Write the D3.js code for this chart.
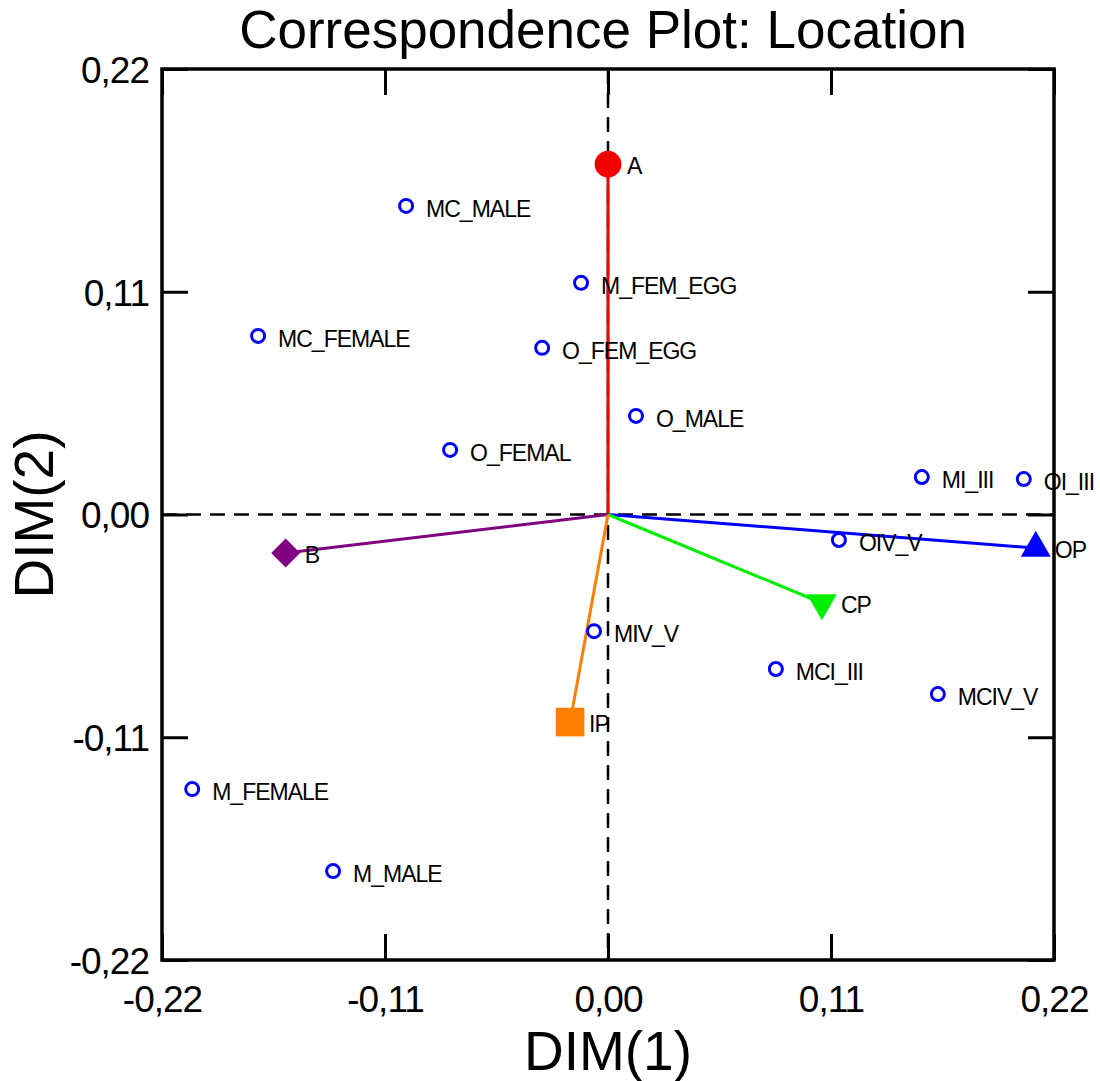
<!doctype html>
<html>
<head>
<meta charset="UTF-8">
<title>Correspondence Plot: Location</title>
<script src="https://d3js.org/d3.v7.min.js"></script>
<style>
  body { margin: 0; background: #fff; }
  text { font-family: "Liberation Sans", Arial, sans-serif; }
</style>
</head>
<body>
<script>
// row points (open circles)
var rowNames = ["MC_MALE", "M_FEM_EGG", "MC_FEMALE", "O_FEM_EGG", "O_MALE", "O_FEMAL",
                "MI_III", "OI_III", "OIV_V", "MIV_V", "MCI_III", "MCIV_V", "M_FEMALE", "M_MALE"];
var rowDim1 = [-0.0996, -0.0133, -0.1726, -0.0325, 0.0138, -0.0779,
               0.1548, 0.2051, 0.1139, -0.0069, 0.0828, 0.1627, -0.2051, -0.1356];
var rowDim2 = [0.1524, 0.1144, 0.0882, 0.0823, 0.0487, 0.0319,
               0.0185, 0.0175, -0.0126, -0.0576, -0.0763, -0.0887, -0.1356, -0.1761];

// column points (location)
var colNames = ["A", "B", "OP", "CP", "IP"];
var colDim1 = [0.0, -0.159, 0.211, 0.1055, -0.0187];
var colDim2 = [0.173, -0.019, -0.0166, -0.0437, -0.1025];

var tickVals = [-0.22, -0.11, 0.00, 0.11, 0.22];

var colStyle = {
  A:  { color: "#f00000", shape: d3.symbolCircle,   size: 560, rot: 0 },
  B:  { color: "#800080", shape: d3.symbolSquare,   size: 420, rot: 45 },
  OP: { color: "#0000ff", shape: d3.symbolTriangle, size: 390, rot: 0 },
  CP: { color: "#00ee00", shape: d3.symbolTriangle, size: 390, rot: 180 },
  IP: { color: "#ff8000", shape: d3.symbolSquare,   size: 820, rot: 0 }
};

var W = 1100, H = 1081;
var pL = 162, pR = 1054, pT = 69, pB = 960;

var svg = d3.select("body").append("svg").attr("width", W).attr("height", H);

var x = d3.scaleLinear().domain([-0.22, 0.22]).range([pL, pR]);
var y = d3.scaleLinear().domain([-0.22, 0.22]).range([pB, pT]);
var fmt = function(d){ return d3.format(".2f")(d).replace(".", ",").replace("−", "-"); };

// dashed zero lines
svg.append("line").attr("x1", x(0)).attr("x2", x(0)).attr("y1", pT).attr("y2", pB)
  .attr("stroke", "#000").attr("stroke-width", 2.5).attr("stroke-dasharray", "15,9");
svg.append("line").attr("x1", pL).attr("x2", pR).attr("y1", y(0)).attr("y2", y(0))
  .attr("stroke", "#000").attr("stroke-width", 2.5).attr("stroke-dasharray", "15,9");

// axes with inward ticks
var tk = 26;
function styleAxis(g, showLabels){
  g.select(".domain").remove();
  g.selectAll(".tick line").attr("stroke", "#000").attr("stroke-width", 3);
  if (!showLabels) g.selectAll(".tick text").remove();
}
svg.append("g").attr("transform", "translate(0," + pB + ")")
  .call(d3.axisBottom(x).tickValues(tickVals).tickSize(-tk).tickPadding(0).tickFormat(fmt))
  .call(styleAxis, true)
  .selectAll(".tick text").attr("y", 52).attr("dy", null)
  .style("font-size", "37px").style("letter-spacing", "-1px").attr("fill", "#000");
svg.append("g").attr("transform", "translate(0," + pT + ")")
  .call(d3.axisTop(x).tickValues(tickVals).tickSize(-tk))
  .call(styleAxis, false);
svg.append("g").attr("transform", "translate(" + pL + ",0)")
  .call(d3.axisLeft(y).tickValues(tickVals).tickSize(-tk).tickPadding(0).tickFormat(fmt))
  .call(styleAxis, true)
  .selectAll(".tick text").attr("x", -13).attr("dy", "0.36em")
  .style("font-size", "37px").style("letter-spacing", "-1px").attr("fill", "#000");
svg.append("g").attr("transform", "translate(" + pR + ",0)")
  .call(d3.axisRight(y).tickValues(tickVals).tickSize(-tk))
  .call(styleAxis, false);

// frame
svg.append("rect").attr("x", pL).attr("y", pT).attr("width", pR - pL).attr("height", pB - pT)
  .attr("fill", "none").attr("stroke", "#000").attr("stroke-width", 3.5);

// vectors from origin to column points
svg.selectAll("line.vec").data(colNames).enter().append("line").attr("class", "vec")
  .attr("x1", x(0)).attr("y1", y(0))
  .attr("x2", function(d, i){ return x(colDim1[i]); })
  .attr("y2", function(d, i){ return y(colDim2[i]); })
  .attr("stroke", function(d){ return colStyle[d].color; })
  .attr("stroke-width", 3);

// row points
svg.selectAll("circle.row").data(rowNames).enter().append("circle").attr("class", "row")
  .attr("cx", function(d, i){ return x(rowDim1[i]); })
  .attr("cy", function(d, i){ return y(rowDim2[i]); })
  .attr("r", 6.5).attr("fill", "none").attr("stroke", "#0000ff").attr("stroke-width", 3);
svg.selectAll("text.row").data(rowNames).enter().append("text").attr("class", "row")
  .attr("x", function(d, i){ return x(rowDim1[i]) + 20; })
  .attr("y", function(d, i){ return y(rowDim2[i]) + 11; })
  .style("font-size", "23px").style("letter-spacing", "-1px")
  .text(function(d){ return d; });

// column points
svg.selectAll("path.col").data(colNames).enter().append("path").attr("class", "col")
  .attr("d", function(d){ return d3.symbol().type(colStyle[d].shape).size(colStyle[d].size)(); })
  .attr("transform", function(d, i){
    return "translate(" + x(colDim1[i]) + "," + y(colDim2[i]) + ") rotate(" + colStyle[d].rot + ")";
  })
  .attr("fill", function(d){ return colStyle[d].color; });
svg.selectAll("text.col").data(colNames).enter().append("text").attr("class", "col")
  .attr("x", function(d, i){ return x(colDim1[i]) + 19; })
  .attr("y", function(d, i){ return y(colDim2[i]) + 10; })
  .style("font-size", "23px").style("letter-spacing", "-1px")
  .text(function(d){ return d; });

// titles
svg.append("text").attr("x", 603).attr("y", 48).attr("text-anchor", "middle")
  .style("font-size", "53px").text("Correspondence Plot: Location");
svg.append("text").attr("x", x(0)).attr("y", 1070).attr("text-anchor", "middle")
  .style("font-size", "55px").text("DIM(1)");
svg.append("text").attr("transform", "translate(53," + y(0) + ") rotate(-90)").attr("text-anchor", "middle")
  .style("font-size", "55px").text("DIM(2)");
</script>
</body>
</html>
